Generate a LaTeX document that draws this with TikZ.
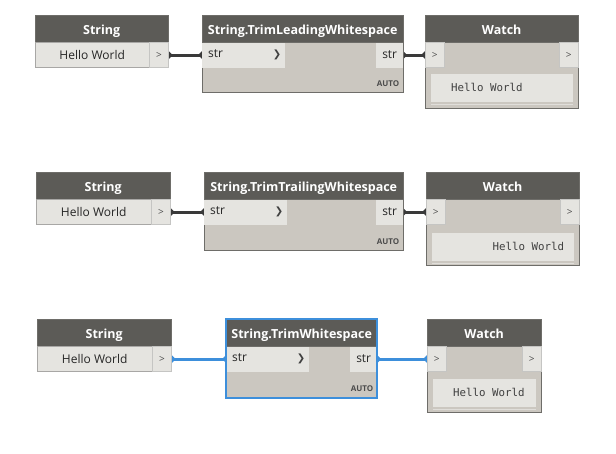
\documentclass[tikz,border=0pt]{standalone}
\usepackage{fontspec}
\setsansfont{Open Sans}
\setmonofont{DejaVu Sans Mono}
\newfontfamily\symfont{DejaVu Sans}
\usepackage{xcolor}
\usetikzlibrary{positioning, arrows.meta, backgrounds}

\definecolor{hdrgray}{HTML}{5C5B57}
\definecolor{bodygray}{HTML}{CBC7C0}
\definecolor{portgray}{HTML}{E5E4E0}
\definecolor{edgegray}{HTML}{6E6D69}
\definecolor{wiregray}{HTML}{3A3A3A}
\definecolor{selblue}{HTML}{3D8FDB}

\begin{document}
\begin{tikzpicture}[x=1pt, y=-1pt,
    hdr/.style={fill=hdrgray, draw=edgegray, text=white, font=\sffamily\bfseries\fontsize{12.5}{14}\selectfont, minimum height=27, text height=12pt, text depth=0pt, inner sep=0pt, anchor=north west},
    body/.style={fill=bodygray, draw=edgegray, minimum width=#1, inner sep=0pt, anchor=north west},
    field/.style={fill=portgray, draw=edgegray!60, minimum height=25, inner sep=0pt, anchor=north west, font=\sffamily\fontsize{12}{14}\selectfont, text=black!85},
    port/.style={fill=portgray, draw=edgegray!40, minimum height=25, minimum width=19, inner sep=0pt, font=\sffamily\fontsize{10}{12}\selectfont, text=black!70},
    inport/.style={fill=portgray, minimum height=25, text width=75, inner xsep=4, inner ysep=0, anchor=north west, font=\sffamily\fontsize{12}{14}\selectfont, text=black!85},
    outport/.style={fill=portgray, minimum height=25, minimum width=27, inner sep=0pt, anchor=north east, font=\sffamily\fontsize{12}{14}\selectfont, text=black!85},
    autotag/.style={font=\sffamily\bfseries\fontsize{8}{10}\selectfont, text=black!70, anchor=south east, inner sep=0pt},
    display/.style={fill=portgray, minimum height=28, inner sep=0pt, anchor=north west},
    mono/.style={font=\ttfamily\fontsize{10.8}{13}\selectfont, text=black!75, inner sep=0pt},
    sepline/.style={draw=portgray!80!bodygray, line width=1.2pt},
    wire/.style={line width=3pt, wiregray, {Circle[length=6.5pt]}-{Circle[length=6.5pt]}, shorten <=-3.25pt, shorten >=-3.25pt},
    selwire/.style={wire, selblue}]

    \useasboundingbox (0,0) rectangle (616,454);

    % Row 1: TrimLeadingWhitespace
    \node[hdr, minimum width=133] (s1) at (35,15) {String};
    \node[field, minimum width=114] (s1v) at (s1.south west) {Hello World};
    \node[port, right=0pt of s1v] (s1o) {>};

    \node[hdr, minimum width=201] (t1) at (202,15) {String.TrimLeadingWhitespace};
    \node[body=201, minimum height=50] (t1b) at (t1.south west) {};
    \node[inport] (t1i) at (t1b.north west) {\,str\hfill{\symfont\bfseries\fontsize{10}{12}\selectfont\color{black!75}❯}};
    \node[outport] (t1o) at (t1b.north east) {str};
    \node[autotag] (t1a) at ([shift={(-4,-6)}]t1b.south east) {AUTO};

    \node[hdr, minimum width=153] (w1) at (425,15) {Watch};
    \node[body=153, minimum height=66] (w1b) at (w1.south west) {};
    \node[port, anchor=north west] (w1i) at (w1b.north west) {>};
    \node[port, anchor=north east] (w1o) at (w1b.north east) {>};
    \node[display, minimum width=142] (w1d) at ([shift={(6,31)}]w1b.north west) {};
    \node[mono, anchor=west] (w1t) at ([xshift=20pt]w1d.west) {Hello World};
    \draw[sepline] ([yshift=-2.5pt]w1d.south west) -- ([yshift=-2.5pt]w1d.south east);

    % Row 2: TrimTrailingWhitespace
    \node[hdr, minimum width=134] (s2) at (36,172) {String};
    \node[field, minimum width=115] (s2v) at (s2.south west) {Hello World};
    \node[port, right=0pt of s2v] (s2o) {>};

    \node[hdr, minimum width=199] (t2) at (204,172) {String.TrimTrailingWhitespace};
    \node[body=199, minimum height=51] (t2b) at (t2.south west) {};
    \node[inport] (t2i) at (t2b.north west) {\,str\hfill{\symfont\bfseries\fontsize{10}{12}\selectfont\color{black!75}❯}};
    \node[outport] (t2o) at (t2b.north east) {str};
    \node[autotag] (t2a) at ([shift={(-4,-6)}]t2b.south east) {AUTO};

    \node[hdr, minimum width=153] (w2) at (426,172) {Watch};
    \node[body=153, minimum height=66] (w2b) at (w2.south west) {};
    \node[port, anchor=north west] (w2i) at (w2b.north west) {>};
    \node[port, anchor=north east] (w2o) at (w2b.north east) {>};
    \node[display, minimum width=142] (w2d) at ([shift={(6,33)}]w2b.north west) {};
    \node[mono, anchor=east] (w2t) at ([xshift=-10pt]w2d.east) {Hello World};
    \draw[sepline] ([yshift=-2.5pt]w2d.south west) -- ([yshift=-2.5pt]w2d.south east);

    % Row 3: TrimWhitespace (selected)
    \node[hdr, minimum width=134] (s3) at (37,319) {String};
    \node[field, minimum width=115] (s3v) at (s3.south west) {Hello World};
    \node[port, right=0pt of s3v] (s3o) {>};

    \node[hdr, minimum width=151] (t3) at (226,319) {String.TrimWhitespace};
    \node[body=151, minimum height=51] (t3b) at (t3.south west) {};
    \node[inport] (t3i) at (t3b.north west) {\,str\hfill{\symfont\bfseries\fontsize{10}{12}\selectfont\color{black!75}❯}};
    \node[outport] (t3o) at (t3b.north east) {str};
    \node[autotag] (t3a) at ([shift={(-4,-6)}]t3b.south east) {AUTO};
    \draw[selblue, line width=2pt] (t3.north west) rectangle (t3b.south east);

    \node[hdr, minimum width=114] (w3) at (427,319) {Watch};
    \node[body=114, minimum height=66] (w3b) at (w3.south west) {};
    \node[port, anchor=north west] (w3i) at (w3b.north west) {>};
    \node[port, anchor=north east] (w3o) at (w3b.north east) {>};
    \node[display, minimum width=103] (w3d) at ([shift={(6,32)}]w3b.north west) {};
    \node[mono, anchor=west] (w3t) at ([xshift=20pt]w3d.west) {Hello World};
    \draw[sepline] ([yshift=-2.5pt]w3d.south west) -- ([yshift=-2.5pt]w3d.south east);

    % Wires
    \begin{scope}[on background layer]
        \draw[wire] (s1o) -- (t1i);
        \draw[wire] (t1o) -- (w1i);
        \draw[wire] (s2o) -- (t2i);
        \draw[wire] (t2o) -- (w2i);
        \draw[selwire] (s3o) -- (t3i);
        \draw[selwire] (t3o) -- (w3i);
    \end{scope}

\end{tikzpicture}
\end{document}
